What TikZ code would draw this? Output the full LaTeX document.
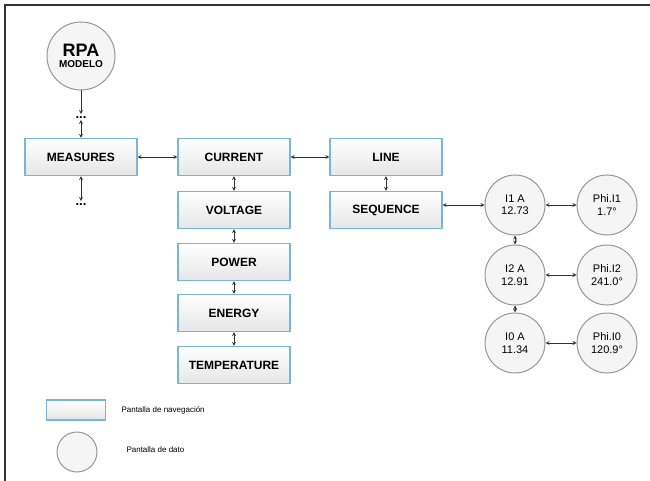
\documentclass[tikz,border=0pt]{standalone}
\usepackage{fontspec}
\setmainfont{Liberation Sans}
\usetikzlibrary{arrows}
\definecolor{navblue}{RGB}{120,180,220}
\definecolor{datgray}{RGB}{150,150,150}
\definecolor{arrgray}{RGB}{50,50,50}
\tikzset{
  navbox/.style={draw=navblue,line width=1.1pt,top color=white,bottom color=black!10,
    minimum width=112pt,minimum height=37pt,inner sep=0pt,font=\fontsize{12}{13}\selectfont\bfseries},
  datcirc/.style={circle,draw=datgray,line width=1pt,fill=black!4,
    minimum size=60pt,inner sep=0pt,align=center,font=\fontsize{11}{12.5}\selectfont},
  dots/.style={inner sep=1.5pt,text height=2.5pt,text depth=0pt,font=\fontsize{13}{13}\selectfont\bfseries},
  link/.style={arrgray,line width=0.8pt},
  legend/.style={anchor=west,font=\fontsize{8}{9}\selectfont}
}
\begin{document}
\begin{tikzpicture}[x=1pt,y=-1pt,>=stealth]
\useasboundingbox (0,0) rectangle (650,481);
\draw[line width=1.6pt,black!80] (5,481) -- (5,5) -- (650,5);
% model and measures
\node[datcirc,minimum size=68pt] (rpa) at (81,56) {{\fontsize{18}{19}\selectfont\bfseries RPA}\\[-1pt]{\fontsize{10}{11}\selectfont\bfseries MODELO}};
\node[dots] (d1) at (81,117) {...};
\node[navbox] (meas) at (81,157) {MEASURES};
\node[dots] (d2) at (81,204) {...};
% navigation column
\node[navbox] (cur) at (234,157) {CURRENT};
\node[navbox] (volt) at (234,210) {VOLTAGE};
\node[navbox] (pow) at (234,262) {POWER};
\node[navbox] (ener) at (234,313) {ENERGY};
\node[navbox] (temp) at (234,365) {TEMPERATURE};
\node[navbox] (line) at (386,157) {LINE};
\node[navbox] (seq) at (386,210) {SEQUENCE};
% data screens
\node[datcirc] (i1) at (515,205) {I1 A\\12.73};
\node[datcirc] (i2) at (515,275) {I2 A\\12.91};
\node[datcirc] (i0) at (515,343) {I0 A\\11.34};
\node[datcirc] (ph1) at (607,205) {Phi.I1\\1.7°};
\node[datcirc] (ph2) at (607,275) {Phi.I2\\241.0°};
\node[datcirc] (ph0) at (607,343) {Phi.I0\\120.9°};
\path[->,link] (rpa) edge (d1);
\path[<->,link] (d1) edge (meas) (meas) edge (d2);
\path[<->,link] (meas) edge (cur) (cur) edge (line) (line) edge (seq);
\path[<->,link] (cur) edge (volt) (volt) edge (pow) (pow) edge (ener) (ener) edge (temp);
\path[<->,link] (seq.east |- i1.west) edge (i1) (i1) edge (i2) (i2) edge (i0);
\path[<->,link] (i1) edge (ph1) (i2) edge (ph2) (i0) edge (ph0);
% legend
\node[navbox,minimum width=59pt,minimum height=20pt] (lbox) at (76,410) {};
\node[legend] (lboxt) at (118,410) {Pantalla de navegación};
\node[datcirc,minimum size=40pt] (lcirc) at (77,452) {};
\node[legend] (lcirct) at (123,450) {Pantalla de dato};
\end{tikzpicture}
\end{document}
